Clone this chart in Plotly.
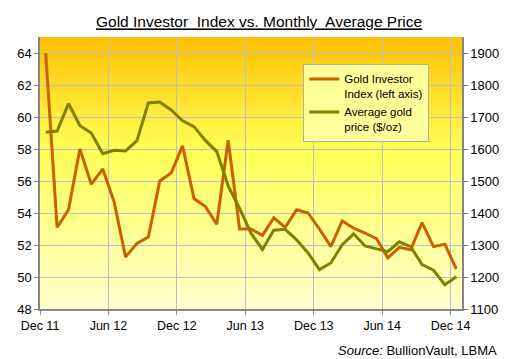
import plotly.graph_objects as go

# ---- data ----
months = list(range(37))  # Dec 2011 .. Dec 2014
investor_index = [64.0, 53.1, 54.2, 58.0, 55.8, 56.75, 54.7, 51.25, 52.1, 52.5,
                  56.0, 56.5, 58.2, 54.9, 54.4, 53.3, 58.55, 53.0, 53.0, 52.6,
                  53.7, 53.1, 54.2, 54.0, 53.0, 51.9, 53.5, 53.05, 52.75, 52.4,
                  51.2, 51.85, 51.7, 53.4, 51.9, 52.05, 50.5]
gold_price = [1652, 1656, 1742, 1673, 1650, 1585, 1596, 1594, 1626, 1744,
              1747, 1722, 1688, 1670, 1627, 1592, 1485, 1414, 1337, 1286,
              1346, 1349, 1316, 1275, 1223, 1244, 1301, 1335, 1297, 1288,
              1279, 1310, 1295, 1239, 1221, 1176, 1201]
tick_positions = [-0.5, 5.5, 11.5, 17.5, 23.5, 29.5, 35.5]
tick_labels = ["Dec 11", "Jun 12", "Dec 12", "Jun 13", "Dec 13", "Jun 14", "Dec 14"]

FONT = "Arial, Liberation Sans, sans-serif"
GRID = "#BEBEC6"
AXIS = "#868686"

fig = go.Figure()
fig.add_trace(go.Scatter(x=months, y=investor_index, mode="lines",
                         name="Gold Investor<br>Index (left axis)",
                         line=dict(color="#CC6000", width=3)))
fig.add_trace(go.Scatter(x=months, y=gold_price, mode="lines",
                         name="Average gold<br>price ($/oz)", yaxis="y2",
                         line=dict(color="#808000", width=3)))

# vertical gradient background (bands)
stops = [(0.0, (255, 192, 0)), (0.42, (255, 255, 85)), (1.0, (255, 255, 206))]
def col(t):
    for (t0, c0), (t1, c1) in zip(stops[:-1], stops[1:]):
        if t <= t1:
            f = (t - t0) / (t1 - t0)
            return "rgb(%d,%d,%d)" % tuple(round(a + (b - a) * f) for a, b in zip(c0, c1))
    return "rgb(%d,%d,%d)" % stops[-1][1]
N = 80
shapes = []
for k in range(N):
    top = 1 - k / N
    bot = 1 - (k + 1) / N
    shapes.append(dict(type="rect", xref="paper", yref="paper", x0=0, x1=1,
                       y0=bot, y1=min(1, top + 0.002), fillcolor=col((k + 0.5) / N),
                       line=dict(width=0), layer="below"))

fig.update_layout(
    width=511, height=359,
    margin=dict(l=40, r=43, t=37, b=50),
    paper_bgcolor="white", plot_bgcolor="rgba(0,0,0,0)",
    font=dict(family=FONT, size=13, color="black"),
    shapes=shapes,
    title=dict(text="<u>Gold Investor  Index vs. Monthly  Average Price</u>",
               xref="container", x=0.507, xanchor="center",
               yref="container", y=1 - 22 / 359, yanchor="middle",
               font=dict(family=FONT, size=15.5, color="black")),
    xaxis=dict(range=[-0.5, 36.5], tickmode="array", tickvals=tick_positions,
               ticktext=tick_labels, showgrid=True, gridcolor=GRID, gridwidth=1,
               showline=True, linecolor=AXIS, linewidth=1.5, ticks="outside",
               ticklen=4, tickcolor=AXIS, zeroline=False,
               tickfont=dict(size=12.5)),
    yaxis=dict(range=[48, 65], tickmode="array", tickvals=list(range(48, 65, 2)),
               showgrid=True, gridcolor=GRID, gridwidth=1, showline=True,
               linecolor=AXIS, linewidth=1.5, ticks="outside", ticklen=4,
               tickcolor=AXIS, zeroline=False, tickfont=dict(size=13)),
    yaxis2=dict(range=[1100, 1950], tickmode="array",
                tickvals=list(range(1100, 1901, 100)), overlaying="y",
                side="right", showgrid=False, showline=True, linecolor=AXIS,
                linewidth=1.5, ticks="outside", ticklen=4, tickcolor=AXIS,
                zeroline=False, tickfont=dict(size=13)),
    legend=dict(x=(307 - 40) / 428, y=(309 - 64) / 272, xanchor="left",
                yanchor="top", bgcolor="#FFFF99", bordercolor="#B0B0B0",
                borderwidth=1, font=dict(family=FONT, size=11.5),
                valign="top", itemwidth=30),
    showlegend=True,
    annotations=[dict(text="<i>Source:</i> BullionVault, LBMA", xref="paper",
                      yref="paper", x=(506 - 40) / 428, y=(309 - 350) / 272,
                      xanchor="right", yanchor="middle", showarrow=False,
                      font=dict(family=FONT, size=13))],
)

fig.write_html("out.html", config={"displayModeBar": False},
               post_script="document.body.style.margin='0';document.body.style.overflow='hidden';")
